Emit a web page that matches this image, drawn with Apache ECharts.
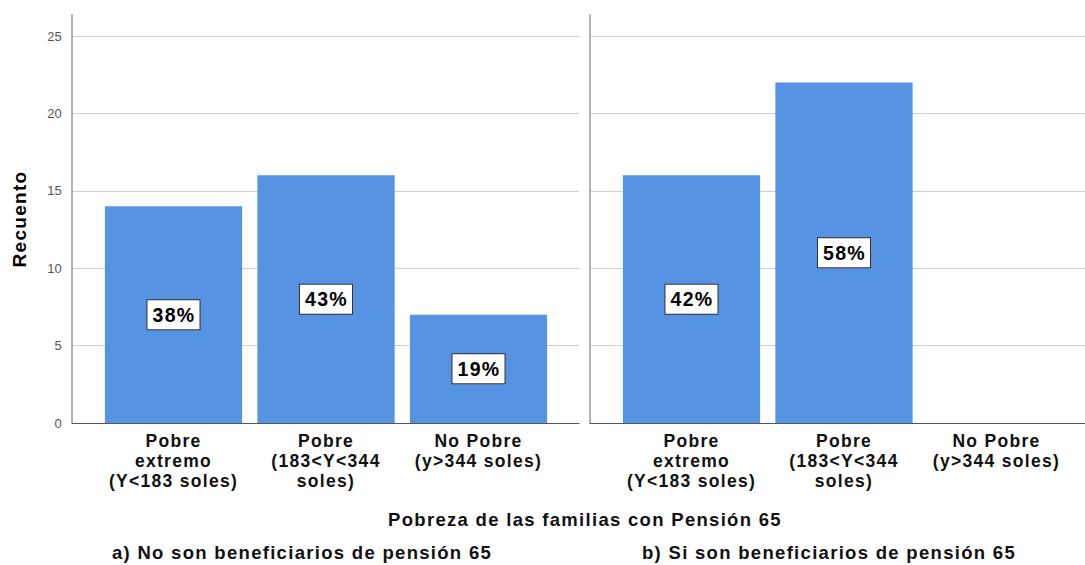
<!DOCTYPE html>
<html>
<head>
<meta charset="utf-8">
<script src="https://cdn.jsdelivr.net/npm/echarts@6/dist/echarts.min.js"></script>
<style>
html,body{margin:0;padding:0;background:#fff}
#c{width:1085px;height:565px}
#c svg text{letter-spacing:1.3px}
#c svg text[style*="13px"]{letter-spacing:0.2px}
</style>
</head>
<body>
<div id="c"></div>
<script>
const categories = ['Pobre\nextremo\n(Y<183 soles)', 'Pobre\n(183<Y<344\nsoles)', 'No Pobre\n(y>344 soles)'];
const noBeneficiarios = [14, 16, 7];
const siBeneficiarios = [16, 22, 0];
const yTicks = [0, 5, 10, 15, 20, 25];
const panelTitles = ['a) No son beneficiarios de pensión 65', 'b) Si son beneficiarios de pensión 65'];
const xTitle = 'Pobreza de las familias con Pensión 65';
const yTitle = 'Recuento';

const FONT = 'Liberation Sans, Arial, sans-serif';
const BAR = '#5694E3';
const chart = echarts.init(document.getElementById('c'), null, {renderer: 'svg'});

function barData(arr) {
  const sum = arr.reduce((a, b) => a + b, 0);
  return arr.map(v => ({value: v, label: {show: v > 0, formatter: Math.round(v / sum * 100) + '%'}}));
}

const grids = [
  {left: 72, width: 507, top: 36, bottom: 142},
  {left: 72, width: 507, top: 15, bottom: 142},
  {left: 97.25, width: 457.5, top: 36, bottom: 142},
  {left: 590, width: 495, top: 36, bottom: 142},
  {left: 590, width: 495, top: 15, bottom: 142},
  {left: 615.25, width: 457.5, top: 36, bottom: 142}
];

const xAxes = [], yAxes = [];
[0, 3].forEach((g, panel) => {
  xAxes.push({gridIndex: g, type: 'value', min: 0, max: 1,
    axisLine: {show: true, onZero: false, lineStyle: {color: '#555', width: 1}},
    axisTick: {show: false}, axisLabel: {show: false}, splitLine: {show: false}});
  yAxes.push({gridIndex: g, type: 'value', min: yTicks[0], max: yTicks[yTicks.length - 1], interval: 5,
    axisLine: {show: false}, axisTick: {show: false},
    axisLabel: {show: panel === 0, color: '#555', fontSize: 13, fontFamily: FONT, margin: 10},
    splitLine: {show: true, lineStyle: {color: '#cfcfcf', width: 1}}});
  xAxes.push({gridIndex: g + 1, type: 'value', min: 0, max: 1, show: false});
  yAxes.push({gridIndex: g + 1, type: 'value', min: 0, max: 1,
    axisLine: {show: true, lineStyle: {color: '#999', width: 1.5}},
    axisTick: {show: false}, axisLabel: {show: false}, splitLine: {show: false},
    name: panel === 0 ? yTitle : '', nameLocation: 'middle', nameGap: 43, nameRotate: 90,
    nameTextStyle: {fontSize: 19, fontWeight: 'bold', color: '#000', fontFamily: FONT}});
  xAxes.push({gridIndex: g + 2, type: 'category', data: categories,
    axisLine: {show: false}, axisTick: {show: false}, splitLine: {show: false},
    axisLabel: {interval: 0, fontSize: 17.5, fontWeight: 'bold', color: '#111', fontFamily: FONT,
      lineHeight: 20, margin: 8, align: 'center'}});
  yAxes.push({gridIndex: g + 2, type: 'value', min: yTicks[0], max: yTicks[yTicks.length - 1], show: false});
});

const labelStyle = {
  show: true, position: 'inside', color: '#000', fontSize: 19.5, fontWeight: 'bold', fontFamily: FONT,
  lineHeight: 20, backgroundColor: '#fff', borderColor: '#333', borderWidth: 1, padding: [5, 6, 4, 7]
};

const option = {
  backgroundColor: '#fff',
  animation: false,
  grid: grids,
  xAxis: xAxes,
  yAxis: yAxes,
  series: [
    {type: 'bar', xAxisIndex: 2, yAxisIndex: 2, data: barData(noBeneficiarios), barCategoryGap: '10%',
      itemStyle: {color: BAR}, label: labelStyle},
    {type: 'bar', xAxisIndex: 5, yAxisIndex: 5, data: barData(siBeneficiarios), barCategoryGap: '10%',
      itemStyle: {color: BAR}, label: labelStyle}
  ],
  graphic: [
    {type: 'text', x: 585, y: 519, style: {text: xTitle, textAlign: 'center', textVerticalAlign: 'middle',
      fontSize: 18.5, fontWeight: 'bold', fill: '#111', fontFamily: FONT}},
    {type: 'text', x: 302, y: 552, style: {text: panelTitles[0], textAlign: 'center', textVerticalAlign: 'middle',
      fontSize: 18.5, fontWeight: 'bold', fill: '#111', fontFamily: FONT}},
    {type: 'text', x: 829, y: 552, style: {text: panelTitles[1], textAlign: 'center', textVerticalAlign: 'middle',
      fontSize: 18.5, fontWeight: 'bold', fill: '#111', fontFamily: FONT}}
  ]
};
chart.setOption(option);
</script>
</body>
</html>
